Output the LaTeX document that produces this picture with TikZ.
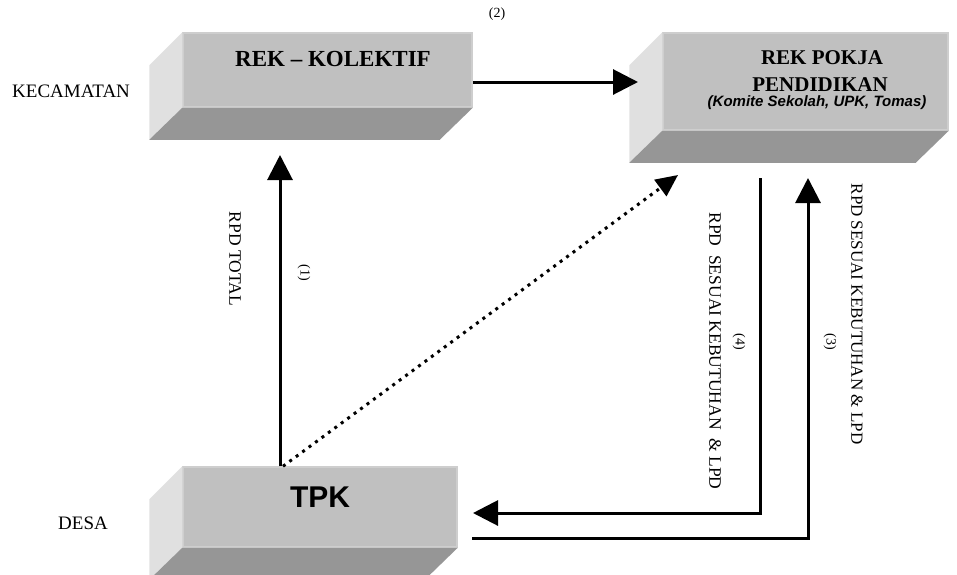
\documentclass[tikz,border=0pt]{standalone}
\usepackage{fontspec}
\setmainfont{Liberation Serif}
\setsansfont{Liberation Sans}
\usetikzlibrary{arrows.meta}

\definecolor{frontgray}{RGB}{192,192,192}
\definecolor{sidegray}{RGB}{224,224,224}
\definecolor{basegray}{RGB}{150,150,150}
\definecolor{edgegray}{RGB}{206,206,206}

% left and bottom faces of a slab
\newcommand{\slabsides}[1]{%
  \fill[sidegray] (#1.north west) -- ++(-33,33) -- ([shift={(-33,32)}]#1.south west) -- (#1.south west) -- cycle;
  \fill[basegray] (#1.south west) -- (#1.south east) -- ++(-33,32) -- ([shift={(-33,32)}]#1.south west) -- cycle;
}

\begin{document}
\begin{tikzpicture}[x=1pt, y=-1pt,
    front/.style={fill=frontgray, draw=edgegray, line width=1.5pt, inner sep=0pt},
    bigarrow/.style={line width=3pt, -{Triangle[length=25pt,width=25pt]}},
    dotarrow/.style={line width=3pt, dash pattern=on 3pt off 5pt, -{Triangle[length=22pt,width=20pt]}},
    lbl/.style={inner sep=0pt, font=\fontsize{19}{22}\selectfont},
    side/.style={inner sep=0pt, rotate=-90, font=\fontsize{17.5}{20}\selectfont},
    num/.style={inner sep=0pt, font=\fontsize{14}{16}\selectfont}]
    \useasboundingbox (0,0) rectangle (957,574);

    % Balok-balok
    \node[front, minimum width=289, minimum height=74] (kol) at (327.5,70) {};
    \slabsides{kol}
    \node[front, minimum width=285, minimum height=97] (pokja) at (805.5,81.5) {};
    \slabsides{pokja}
    \node[front, minimum width=274, minimum height=80] (tpk) at (320,507) {};
    \slabsides{tpk}

    % Isi balok
    \node[inner sep=0pt, font=\bfseries\fontsize{23}{26}\selectfont] (kolt) at (333,59) {REK \textendash{} KOLEKTIF};
    \node[inner sep=0pt, font=\bfseries\fontsize{21}{24}\selectfont] (pokjaa) at (822,58) {REK POKJA};
    \node[inner sep=0pt, font=\bfseries\fontsize{21}{24}\selectfont] (pokjab) at (820,85) {PENDIDIKAN};
    \node[inner sep=0pt, font=\sffamily\bfseries\itshape\fontsize{15}{18}\selectfont] (pokjac) at (817,103) {(Komite Sekolah, UPK, Tomas)};
    \node[inner sep=0pt, font=\sffamily\bfseries\fontsize{30}{34}\selectfont] (tpkt) at (320,497) {TPK};

    % Tingkat
    \node[lbl, anchor=west] (kec) at (12,91) {KECAMATAN};
    \node[lbl, anchor=west] (desa) at (58,523) {DESA};

    % Alur
    \coordinate (tip1) at (280,155);
    \coordinate (tip2) at (638,82);
    \coordinate (tipd) at (678,175);
    \coordinate (top4) at (760,178);
    \coordinate (tip4) at (473,513);
    \coordinate (tip3) at (808,178);
    \coordinate (bot3) at (472,538);

    \draw[bigarrow] (tpk.north -| tip1) -- (tip1);
    \draw[bigarrow] (kol.east |- tip2) -- (tip2);
    \draw[dotarrow] ([xshift=3pt]tpk.north -| tip1) -- (tipd);
    \draw[bigarrow] (top4) |- (tip4);
    \draw[bigarrow] (bot3) -| (tip3);

    % Keterangan alur
    \node[num] (n2) at (497,14) {(2)};
    \node[side] (rpdtot) at (235,259) {RPD TOTAL};
    \node[num, rotate=-90] (n1) at (304,273) {(1)};
    \node[side] (rpd4) at (715,351) {RPD\ \ SESUAI KEBUTUHAN\ \ \& LPD};
    \node[num, rotate=-90] (n4) at (739,342) {(4)};
    \node[side, font=\fontsize{17}{20}\selectfont] (rpd3) at (857,314) {RPD SESUAI KEBUTUHAN \& LPD};
    \node[num, rotate=-90] (n3) at (830,342) {(3)};
\end{tikzpicture}
\end{document}
